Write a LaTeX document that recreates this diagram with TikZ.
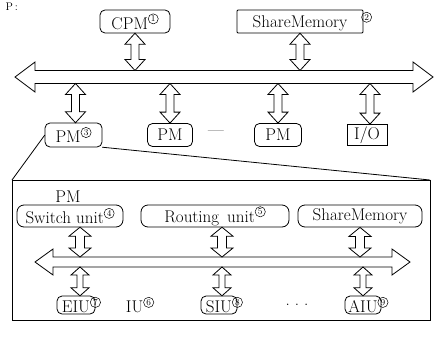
\documentclass[tikz,border=0pt]{standalone}
\usetikzlibrary{calc}

% circled number as superscript
\newcommand{\cnum}[1]{\raisebox{5pt}{\tikz\node[draw,circle,minimum size=0pt,inner sep=0.9pt,line width=0.5pt,font=\fontsize{9}{9}\selectfont]{#1};}}

% hollow double arrow, vertical (#1 top end, #2 bottom end)
\def\ah{10pt}\def\as{4pt}\def\al{11pt}
\newcommand{\vlink}[2]{%
  \draw[fill=white] let \p1=(#1), \p2=(#2) in
    (\x1,\y1) -- ({\x1-\ah},{\y1-\al}) -- ({\x1-\as},{\y1-\al})
    -- ({\x1-\as},{\y2+\al}) -- ({\x1-\ah},{\y2+\al}) -- (\x1,\y2)
    -- ({\x1+\ah},{\y2+\al}) -- ({\x1+\as},{\y2+\al})
    -- ({\x1+\as},{\y1-\al}) -- ({\x1+\ah},{\y1-\al}) -- cycle;}

% hollow double arrow, horizontal (#1 left tip, #2 right tip)
\def\bh{15pt}\def\bs{6.5pt}\def\bl{20pt}
\newcommand{\hbus}[2]{%
  \draw[fill=white] let \p1=(#1), \p2=(#2) in
    (\x1,\y1) -- ({\x1+\bl},{\y1+\bh}) -- ({\x1+\bl},{\y1+\bs})
    -- ({\x2-\bl},{\y1+\bs}) -- ({\x2-\bl},{\y1+\bh}) -- (\x2,\y1)
    -- ({\x2-\bl},{\y1-\bh}) -- ({\x2-\bl},{\y1-\bs})
    -- ({\x1+\bl},{\y1-\bs}) -- ({\x1+\bl},{\y1-\bh}) -- cycle;}

\tikzset{
  unit/.style={draw, rounded corners=5pt, minimum height=23pt, inner xsep=3pt, inner ysep=1pt},
  plainbox/.style={draw, rounded corners=1pt, minimum height=23pt, inner xsep=3pt, inner ysep=1pt},
  small/.style={draw, rounded corners=5pt, minimum height=18pt, inner xsep=2pt, inner ysep=0pt}
}

\begin{document}
\begin{tikzpicture}[x=1pt, y=-1pt, line width=0.8pt, font=\fontsize{17}{20}\selectfont]
\useasboundingbox (0,0) rectangle (435,337);

\node[anchor=base west, font=\fontsize{11}{12}\selectfont] (title) at (2,10.5) {P\,:};

% Upper level
\node[unit, minimum width=70pt] (cpm) at (135,21.5) {CPM\cnum{1}};
\node[plainbox, minimum width=126pt] (mem) at (300,21.5) {ShareMemory\rlap{\hspace{14pt}\cnum{2}}};

% Bus
\coordinate (busL) at (15,77);
\coordinate (busR) at (433,77);
\coordinate (busT) at (0,70.5);
\coordinate (busB) at (0,83.5);
\hbus{busL}{busR}

\vlink{cpm.south}{cpm.south |- busT}
\vlink{mem.south}{mem.south |- busT}

% Processors and I/O
\node[unit, minimum width=57pt, minimum height=24pt] (pm3) at (73.5,135) {PM\cnum{3}};
\node[unit, minimum width=45pt] (pma) at (170,135) {PM};
\node (gap) at (216,133) {---};
\node[draw, minimum width=40pt, minimum height=21pt, inner sep=1pt] (io) at (367,135) {I/O};
\node[unit, minimum width=47pt] (pmb) at (278,135) {PM};

\vlink{[xshift=2pt]pm3.north |- busB}{[xshift=2pt]pm3.north}
\vlink{pma.north |- busB}{pma.north}
\vlink{pmb.north |- busB}{pmb.north}
\vlink{[xshift=3pt]io.north |- busB}{[xshift=3pt]io.north}

% Zoom into PM
\coordinate (boxTL) at (12,180);
\coordinate (boxTR) at (430,180);
\coordinate (boxBR) at (430,320);
\draw (pm3.west) -- (boxTL);
\draw (pm3.south east) -- (boxTR);
\draw (boxTL) rectangle (boxBR);

\node (pmname) at (68,197) {PM};
\node[unit, rounded corners=7pt, minimum width=106pt, minimum height=22pt] (sw) at (70,216) {Switch unit\cnum{4}};
\node[unit, rounded corners=7pt, minimum width=148pt, minimum height=22pt] (rt) at (215,216) {Routing\hspace{8pt}unit\cnum{5}};
\node[unit, rounded corners=7pt, minimum width=124pt, minimum height=22pt] (ism) at (360,216) {ShareMemory};

% Inner bus
\def\bh{13pt}\def\bs{5pt}\def\bl{18pt}
\coordinate (ibusL) at (35,262);
\coordinate (ibusR) at (410,262);
\coordinate (ibusT) at (0,257);
\coordinate (ibusB) at (0,267);
\hbus{ibusL}{ibusR}

\def\ah{11pt}\def\as{4.5pt}\def\al{9pt}
\vlink{[xshift=10pt]sw.south}{[xshift=10pt]sw.south |- ibusT}
\vlink{[xshift=7pt]rt.south}{[xshift=7pt]rt.south |- ibusT}
\vlink{ism.south}{ism.south |- ibusT}

% Interface units
\node[small, minimum width=38pt] (eiu) at (76,305) {EIU\rlap{\cnum{7}}};
\node (iu) at (140,305) {IU\cnum{6}};
\node[small, minimum width=36pt] (siu) at (219,305) {SIU\rlap{\cnum{8}}};
\node (dots) at (297,305) {.\hspace{5pt}.\hspace{5pt}.};
\node[small, minimum width=36pt] (aiu) at (363,305) {AIU\rlap{\cnum{9}}};

\def\ah{9pt}\def\as{3pt}\def\al{8pt}
\vlink{[xshift=4pt]eiu.north |- ibusB}{[xshift=4pt]eiu.north}
\vlink{[xshift=3pt]siu.north |- ibusB}{[xshift=3pt]siu.north}
\vlink{aiu.north |- ibusB}{aiu.north}

\end{tikzpicture}
\end{document}
